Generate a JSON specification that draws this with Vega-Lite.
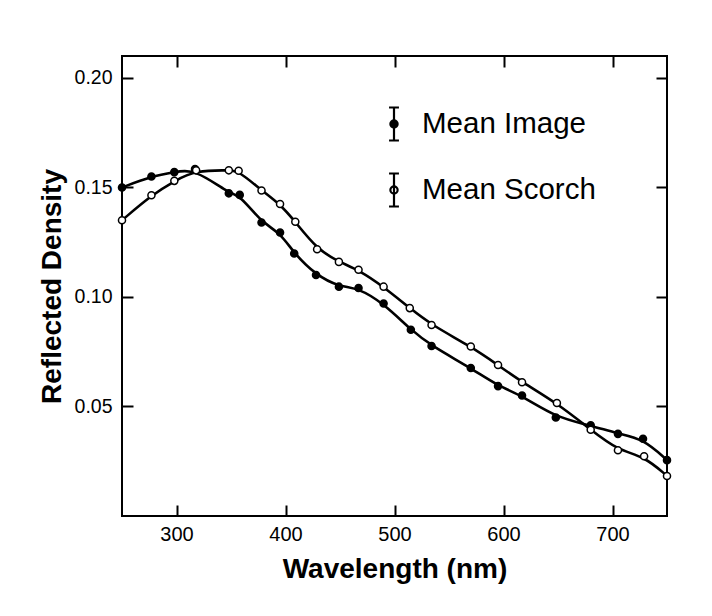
{
  "$schema": "https://vega.github.io/schema/vega-lite/v6.json",
  "width": 545,
  "height": 460,
  "autosize": {"type": "none"},
  "padding": {"left": 122, "top": 56, "right": 45, "bottom": 100},
  "background": "white",
  "config": {
    "view": {"stroke": "black", "strokeWidth": 2},
    "font": "Liberation Sans"
  },
  "data": {
    "values": [
      {"series": "Mean Image", "wavelength": 250, "density": 0.150},
      {"series": "Mean Image", "wavelength": 277, "density": 0.155},
      {"series": "Mean Image", "wavelength": 298, "density": 0.157},
      {"series": "Mean Image", "wavelength": 317, "density": 0.1584},
      {"series": "Mean Image", "wavelength": 348, "density": 0.1473},
      {"series": "Mean Image", "wavelength": 358, "density": 0.1466},
      {"series": "Mean Image", "wavelength": 378, "density": 0.134},
      {"series": "Mean Image", "wavelength": 395, "density": 0.1294},
      {"series": "Mean Image", "wavelength": 408, "density": 0.1198},
      {"series": "Mean Image", "wavelength": 428, "density": 0.110},
      {"series": "Mean Image", "wavelength": 449, "density": 0.1047},
      {"series": "Mean Image", "wavelength": 467, "density": 0.1041},
      {"series": "Mean Image", "wavelength": 490, "density": 0.097},
      {"series": "Mean Image", "wavelength": 515, "density": 0.085},
      {"series": "Mean Image", "wavelength": 534, "density": 0.0776},
      {"series": "Mean Image", "wavelength": 570, "density": 0.0676},
      {"series": "Mean Image", "wavelength": 595, "density": 0.0593},
      {"series": "Mean Image", "wavelength": 617, "density": 0.055},
      {"series": "Mean Image", "wavelength": 648, "density": 0.045},
      {"series": "Mean Image", "wavelength": 680, "density": 0.0414},
      {"series": "Mean Image", "wavelength": 705, "density": 0.0375},
      {"series": "Mean Image", "wavelength": 728, "density": 0.0353},
      {"series": "Mean Image", "wavelength": 750, "density": 0.0255},
      {"series": "Mean Scorch", "wavelength": 250, "density": 0.135},
      {"series": "Mean Scorch", "wavelength": 277, "density": 0.1464},
      {"series": "Mean Scorch", "wavelength": 298, "density": 0.153},
      {"series": "Mean Scorch", "wavelength": 318, "density": 0.1578},
      {"series": "Mean Scorch", "wavelength": 348, "density": 0.1578},
      {"series": "Mean Scorch", "wavelength": 357, "density": 0.1576},
      {"series": "Mean Scorch", "wavelength": 378, "density": 0.1486},
      {"series": "Mean Scorch", "wavelength": 395, "density": 0.1424},
      {"series": "Mean Scorch", "wavelength": 409, "density": 0.1343},
      {"series": "Mean Scorch", "wavelength": 429, "density": 0.1218},
      {"series": "Mean Scorch", "wavelength": 449, "density": 0.116},
      {"series": "Mean Scorch", "wavelength": 467, "density": 0.1124},
      {"series": "Mean Scorch", "wavelength": 490, "density": 0.1047},
      {"series": "Mean Scorch", "wavelength": 514, "density": 0.0949},
      {"series": "Mean Scorch", "wavelength": 534, "density": 0.0872},
      {"series": "Mean Scorch", "wavelength": 570, "density": 0.0774},
      {"series": "Mean Scorch", "wavelength": 595, "density": 0.0689},
      {"series": "Mean Scorch", "wavelength": 617, "density": 0.0611},
      {"series": "Mean Scorch", "wavelength": 649, "density": 0.0516},
      {"series": "Mean Scorch", "wavelength": 680, "density": 0.0394},
      {"series": "Mean Scorch", "wavelength": 705, "density": 0.030},
      {"series": "Mean Scorch", "wavelength": 729, "density": 0.0273},
      {"series": "Mean Scorch", "wavelength": 750, "density": 0.0183}
    ]
  },
  "layer": [
    {
      "mark": {"type": "line", "interpolate": "basis", "color": "black", "strokeWidth": 2.6},
      "encoding": {
        "x": {
          "field": "wavelength", "type": "quantitative",
          "scale": {"domain": [250, 750], "nice": false, "zero": false},
          "axis": {
            "orient": "bottom", "values": [300, 400, 500, 600, 700], "format": "d",
            "grid": false, "domain": false, "tickSize": -11, "tickWidth": 2, "tickColor": "black",
            "labelFontSize": 20, "labelColor": "black", "labelPadding": 19,
            "title": "Wavelength (nm)", "titleFontSize": 28, "titleFontWeight": "bold",
            "titleColor": "black", "titlePadding": 11
          }
        },
        "y": {
          "field": "density", "type": "quantitative",
          "scale": {"domain": [0, 0.21], "nice": false},
          "axis": {
            "orient": "left", "values": [0.05, 0.1, 0.15, 0.2], "format": ".2f",
            "grid": false, "domain": false, "tickSize": -11, "tickWidth": 2, "tickColor": "black",
            "labelFontSize": 19.5, "labelColor": "black", "labelPadding": 21,
            "title": "Reflected Density", "titleFontSize": 28, "titleFontWeight": "bold",
            "titleColor": "black", "titlePadding": 8
          }
        },
        "detail": {"field": "series", "type": "nominal"}
      }
    },
    {
      "mark": {"type": "point", "filled": true, "size": 50, "stroke": "black", "strokeWidth": 1.5, "opacity": 1},
      "encoding": {
        "x": {
          "field": "wavelength", "type": "quantitative",
          "axis": {
            "orient": "top", "values": [300, 400, 500, 600, 700], "labels": false,
            "grid": false, "domain": false, "tickSize": -11, "tickWidth": 2, "tickColor": "black", "title": null
          }
        },
        "y": {
          "field": "density", "type": "quantitative",
          "axis": {
            "orient": "right", "values": [0.05, 0.1, 0.15, 0.2], "labels": false,
            "grid": false, "domain": false, "tickSize": -11, "tickWidth": 2, "tickColor": "black", "title": null
          }
        },
        "fill": {
          "field": "series", "type": "nominal",
          "scale": {"domain": ["Mean Image", "Mean Scorch"], "range": ["black", "white"]},
          "legend": {
            "title": null, "orient": "none", "legendX": 254, "legendY": 50,
            "symbolType": "M-0.3,-1H0.3M0,-1V1M-0.3,1H0.3M0.22,0A0.22,0.22 0 1,1 -0.22,0A0.22,0.22 0 1,1 0.22,0Z",
            "symbolSize": 1089, "symbolStrokeColor": "black", "symbolStrokeWidth": 2.2,
            "labelFontSize": 29.5, "labelColor": "black", "labelOffset": 10,
            "rowPadding": 24, "padding": 0, "labelLimit": 400
          }
        }
      }
    }
  ],
  "resolve": {"axis": {"x": "independent", "y": "independent"}}
}
